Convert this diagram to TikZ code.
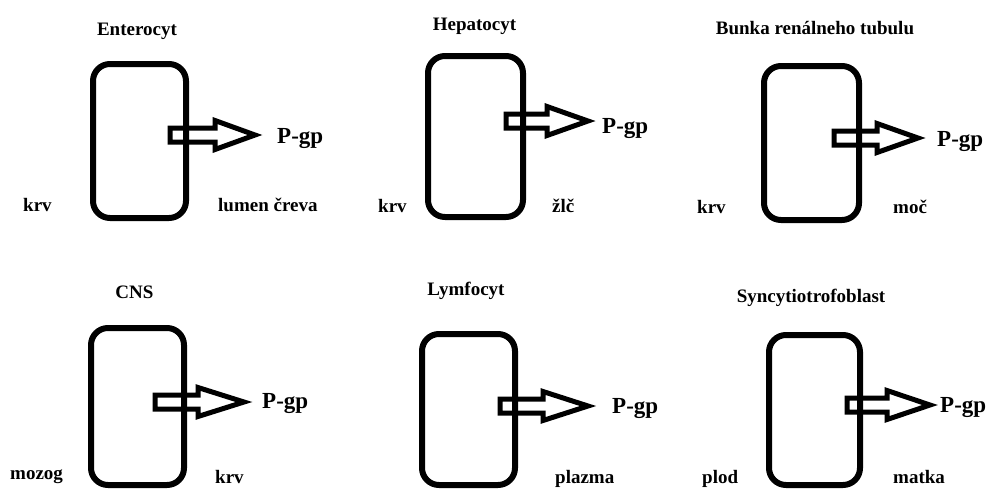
\documentclass[tikz,border=0pt]{standalone}
\usepackage{fontspec}
\setmainfont{Liberation Serif}
\begin{document}
\begin{tikzpicture}[x=1pt,y=-1pt,
  cell/.style={draw=black, line width=6pt, rounded corners=17pt, fill=none,
    inner sep=0pt, minimum width=#1},
  cell/.default=93pt,
  pgparrow/.style={draw=black, line width=5pt, line join=miter, miter limit=4},
  title/.style={font=\fontsize{19}{19}\selectfont\bfseries, anchor=base, inner sep=0pt},
  side/.style={font=\fontsize{19}{19}\selectfont\bfseries, anchor=base west, inner sep=0pt},
  pgp/.style={font=\fontsize{23}{23}\selectfont\bfseries, anchor=base west, inner sep=0pt}]
\useasboundingbox[fill=white] (0,0) rectangle (998,490);

% block arrow: shaft from x=#1 to #3 around height #2, head to tip #4
\def\pgpshape#1#2#3#4{%
  \draw[pgparrow] (#1,#2-7) -- (#3,#2-7) -- (#3,#2-14.5) -- (#4,#2)
    -- (#3,#2+14.5) -- (#3,#2+7) -- (#1,#2+7) -- cycle;}

% --- Enterocyt ---
\node[title] (t1) at (137,35) {Enterocyt};
\node[cell=93pt, minimum height=154pt] (c1) at (139.5,141) {};
\pgpshape{170}{135}{215}{255}
\node[pgp] (p1) at (277,143) {P-gp};
\node[side] (l1) at (23,211) {krv};
\node[side] (r1) at (218,211) {lumen čreva};

% --- Hepatocyt ---
\node[title] (t2) at (474.5,30) {Hepatocyt};
\node[cell=95pt, minimum height=161pt] (c2) at (475.5,136.5) {};
\pgpshape{506}{121}{547}{588}
\node[pgp] (p2) at (602,133) {P-gp};
\node[side] (l2) at (378,212) {krv};
\node[side] (r2) at (552,212) {žlč};

% --- Bunka renálneho tubulu ---
\node[title] (t3) at (815,34) {Bunka renálneho tubulu};
\node[cell=95pt, minimum height=154pt] (c3) at (811.5,143) {};
\pgpshape{834}{138}{877}{918}
\node[pgp] (p3) at (937,146) {P-gp};
\node[side] (l3) at (697,213) {krv};
\node[side] (r3) at (893,213) {moč};

% --- CNS ---
\node[title] (t4) at (134.5,298) {CNS};
\node[cell=93pt, minimum height=157pt] (c4) at (137.5,406.5) {};
\pgpshape{155}{402}{198}{244}
\node[pgp] (p4) at (262,408) {P-gp};
\node[side] (l4) at (10,479) {mozog};
\node[side] (r4) at (215,483) {krv};

% --- Lymfocyt ---
\node[title] (t5) at (466,295) {Lymfocyt};
\node[cell=93pt, minimum height=151pt] (c5) at (468.5,409.5) {};
\pgpshape{500}{406}{543}{588}
\node[pgp] (p5) at (612,413) {P-gp};
\node[side] (r5) at (555,483) {plazma};

% --- Syncytiotrofoblast ---
\node[title] (t6) at (811,302) {Syncytiotrofoblast};
\node[cell=91pt, minimum height=150pt] (c6) at (814.5,410) {};
\pgpshape{847}{405}{887}{930}
\node[pgp] (p6) at (940,412) {P-gp};
\node[side] (l6) at (702,483) {plod};
\node[side] (r6) at (893,483) {matka};
\end{tikzpicture}
\end{document}
